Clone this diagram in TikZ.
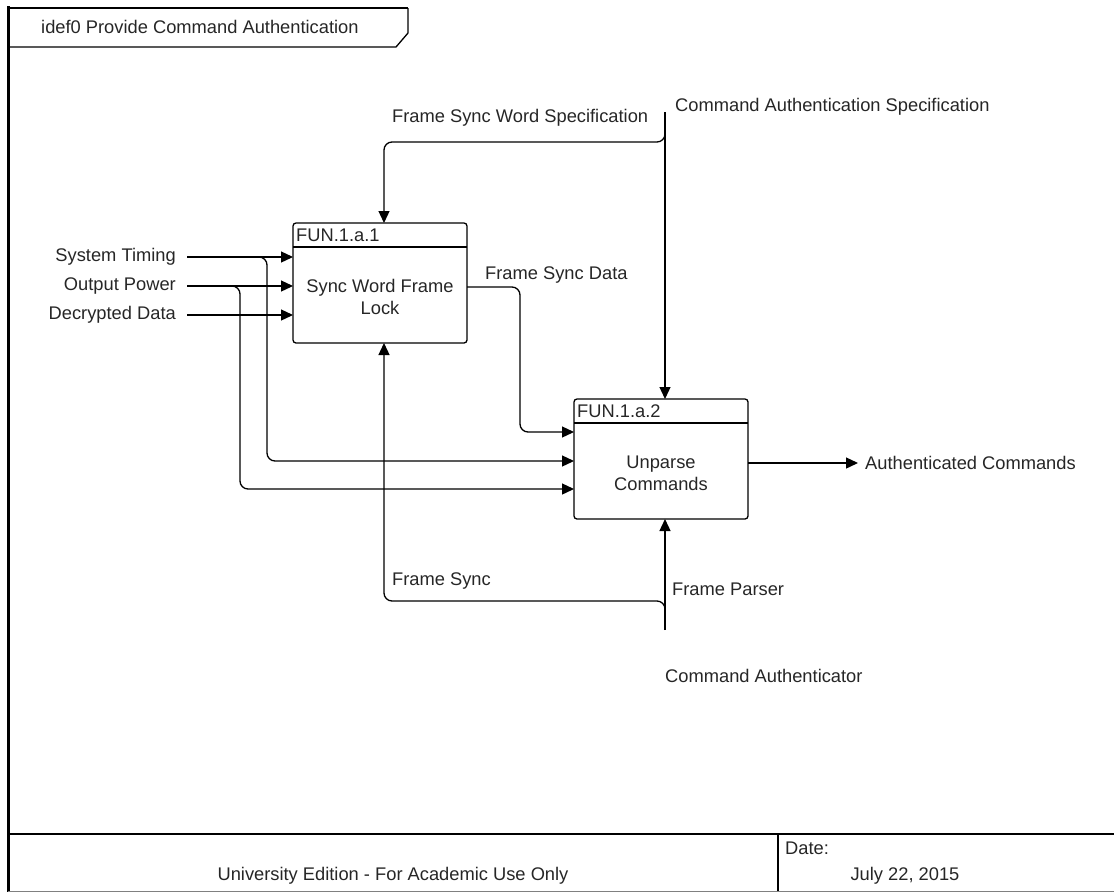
\documentclass[tikz,border=0pt]{standalone}
\usepackage{fontspec}
\setmainfont{Liberation Sans}
\usetikzlibrary{arrows.meta}

\begin{document}
\begin{tikzpicture}[
x=1pt, y=-1pt,
 font=\fontsize{18.3}{22}\selectfont,
  fbox/.style = {rectangle, draw, line width=1.3pt,% activity boxes
                 rounded corners=3pt, minimum width=174pt, minimum height=120pt,
                 inner sep=0pt, outer sep=0pt},
   lbl/.style = {inner sep=3pt, text=black!85},% arrow and sheet labels
   src/.style = {lbl, anchor=east, inner xsep=11pt},
  sink/.style = {lbl, anchor=west, inner xsep=7pt},
  flow/.style = {line width=1.3pt, rounded corners=8pt,
                 -{Triangle[length=12pt,width=11pt]}},
 sheet/.style = {line width=1.3pt},
                        ]
\useasboundingbox (0,0) rectangle (1114,892);
% sheet frame
\draw[line width=3pt] (8,6) -- (8,892);
\draw[line width=2.5pt] (8,8) -- (408,8);
\draw[sheet] (408,8) -- (408,33) -- (396,47) -- (8,47);
\draw[line width=2.5pt] (8,834) -- (1114,834);
\draw[sheet] (778,834) -- (778,892);
\draw[gray, line width=1pt] (8,891) -- (1114,891);
\node[lbl, anchor=west] (title) at (38,27) {idef0 Provide Command Authentication};
\node[lbl] (edition) at (393,876) {University Edition - For Academic Use Only};
\node[lbl, anchor=west] (date-l) at (782,848) {Date:};
\node[lbl] (date) at (905,876) {July 22, 2015};

% activity boxes
\node[fbox] (fb1) at (380,283) {};
\node[fbox] (fb2) at (661,459) {};
\draw[sheet] ([yshift=-24pt]fb1.north west) -- ([yshift=-24pt]fb1.north east);
\draw[sheet] ([yshift=-24pt]fb2.north west) -- ([yshift=-24pt]fb2.north east);
\node[lbl, anchor=west] (fb1-id) at ([yshift=-12pt]fb1.north west) {FUN.1.a.1};
\node[lbl, anchor=west] (fb2-id) at ([yshift=-12pt]fb2.north west) {FUN.1.a.2};
\node[lbl, align=center] (fb1-txt) at ([yshift=-14pt]fb1.center) {Sync Word Frame\\Lock};
\node[lbl, align=center] (fb2-txt) at ([yshift=-14pt]fb2.center) {Unparse\\Commands};

% ports of the second box
\coordinate (p21) at ([yshift=27pt]fb2.west);
\coordinate (p22) at ([yshift=-2pt]fb2.west);
\coordinate (p23) at ([yshift=-30pt]fb2.west);

% inputs
\node[src] (st) at (187,257) {System Timing};
\node[src] (op) at (187,286) {Output Power};
\node[src] (dd) at (187,315) {Decrypted Data};
\foreach \i in {st,op,dd}% <-- inputs of the first box
    \draw[flow] (\i.east) -- (\i.east -| fb1.west);
\draw[flow] ([xshift=71pt]st.east) -| ([xshift=-307pt]p22) -- (p22);
\draw[flow] ([xshift=45pt]op.east) -| ([xshift=-334pt]p23) -- (p23);

% frame sync data
\draw[flow] ([yshift=-4pt]fb1.east) -| ([xshift=-54pt]p21) -- (p21);
\node[lbl, anchor=west] (fsd-l) at (482,275) {Frame Sync Data};

% controls
\coordinate (cas) at (665,112);
\node[lbl, anchor=west] (cas-l) at (672,107) {Command Authentication Specification};
\draw[flow] (cas) -- (cas |- fb2.north);
\draw[flow] ([yshift=-20pt]cas) |- ([xshift=4pt,yshift=81pt]fb1.north) -- ([xshift=4pt]fb1.north);
\node[lbl, anchor=west] (fsws-l) at (389,118) {Frame Sync Word Specification};

% mechanisms
\coordinate (ca) at (665,630);
\node[lbl, anchor=west] (ca-l) at (662,676) {Command Authenticator};
\draw[flow] (ca) -- (ca |- fb2.south);
\node[lbl, anchor=west] (fp-l) at (669,589) {Frame Parser};
\draw[flow] ([yshift=18pt]ca) |- ([xshift=4pt,yshift=-258pt]fb1.south) -- ([xshift=4pt]fb1.south);
\node[lbl, anchor=west] (fs-l) at (389,581) {Frame Sync};

% output
\node[sink] (ac) at (858,463) {Authenticated Commands};
\draw[flow] ([yshift=-4pt]fb2.east) -- (ac.west);
\end{tikzpicture}
\end{document}
